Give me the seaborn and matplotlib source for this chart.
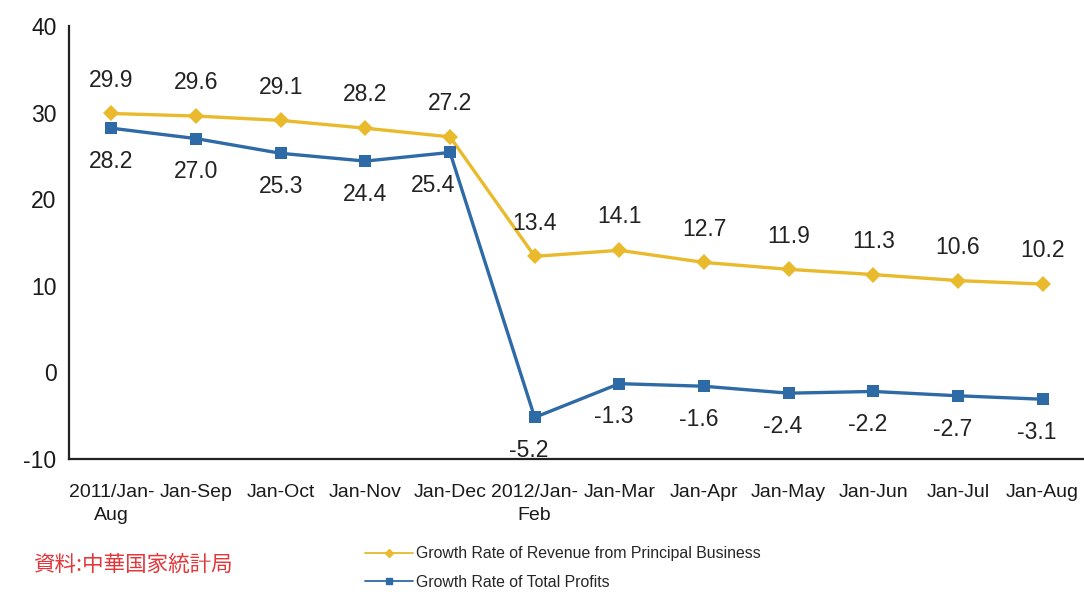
import matplotlib
matplotlib.use("Agg")
import matplotlib.pyplot as plt
import seaborn as sns
import pandas as pd
import numpy as np

# Monthly cumulative periods
periods = ["2011/Jan-\nAug", "Jan-Sep", "Jan-Oct", "Jan-Nov", "Jan-Dec",
           "2012/Jan-\nFeb", "Jan-Mar", "Jan-Apr", "Jan-May", "Jan-Jun",
           "Jan-Jul", "Jan-Aug"]
revenue_growth = [29.9, 29.6, 29.1, 28.2, 27.2, 13.4, 14.1, 12.7, 11.9, 11.3, 10.6, 10.2]
profit_growth = [28.2, 27.0, 25.3, 24.4, 25.4, -5.2, -1.3, -1.6, -2.4, -2.2, -2.7, -3.1]
y_ticks = [-10, 0, 10, 20, 30, 40]

revenue_name = "Growth Rate of Revenue from Principal Business"
profit_name = "Growth Rate of Total Profits"

YELLOW = "#E8BA2C"
BLUE = "#2E6AA6"

sns.set_theme(style="white")
plt.rcParams["font.family"] = ["Liberation Sans", "DejaVu Sans"]

df = pd.DataFrame({
    "pos": list(range(len(periods))) * 2,
    "value": revenue_growth + profit_growth,
    "series": [revenue_name] * len(periods) + [profit_name] * len(periods),
})

fig = plt.figure(figsize=(10.84, 5.92), dpi=100)
ax = fig.add_axes([69 / 1084, 1 - 459 / 592, (1085 - 69) / 1084, 433 / 592])

sns.lineplot(data=df, x="pos", y="value", hue="series", style="series",
             palette={revenue_name: YELLOW, profit_name: BLUE},
             markers={revenue_name: "D", profit_name: "s"},
             dashes=False, linewidth=2.4, markersize=8, markeredgewidth=0,
             ax=ax, legend=False)

ax.set_xlim(-0.5, len(periods) - 0.5)
ax.set_ylim(-10, 40)
ax.set_yticks(y_ticks)
ax.set_yticklabels([str(t) for t in y_ticks], fontsize=16.5, color="#1a1a1a")
ax.set_xticks(range(len(periods)))
ax.set_xticklabels(periods, fontsize=14, linespacing=1.5, color="#1a1a1a")
ax.set_xticks(np.arange(0.5, len(periods) - 0.5, 1), minor=True)
ax.tick_params(axis="x", which="major", length=0, pad=18)
ax.tick_params(axis="x", which="minor", direction="in", length=5, width=1.2, color="#333333")
ax.tick_params(axis="y", direction="in", length=6, width=1.2, color="#333333", pad=9)
ax.set_xlabel("")
ax.set_ylabel("")
for side in ("top", "right"):
    ax.spines[side].set_visible(False)
for side in ("left", "bottom"):
    ax.spines[side].set_color("#222222")
    ax.spines[side].set_linewidth(1.6)

# Value labels
for i, v in enumerate(revenue_growth):
    ax.annotate(f"{v:.1f}", (i, v), xytext=(0, 24), textcoords="offset points",
                ha="center", va="center", fontsize=16.5, color="#222222")
profit_dx = {4: -12}
for i, v in enumerate(profit_growth):
    ax.annotate(f"{v:.1f}", (i, v), xytext=(profit_dx.get(i, -4 if v < 0 else 0), -24),
                textcoords="offset points", ha="center", va="center",
                fontsize=16.5, color="#222222")

# Legend
handles = [
    plt.Line2D([], [], color=YELLOW, marker="D", markersize=4, linewidth=1.3),
    plt.Line2D([], [], color=BLUE, marker="s", markersize=5, linewidth=1.3),
]
fig.legend(handles, [revenue_name, profit_name], loc="upper left",
           bbox_to_anchor=(351 / 1084, 1 - 532 / 592), frameon=False,
           handlelength=3.0, handletextpad=0.2, labelspacing=0.85,
           prop={"family": ["Liberation Sans", "DejaVu Sans"], "size": 11.4})

fig.text(33 / 1084, 1 - 565 / 592, "資料:中華国家統計局", color="#E2383C",
         fontsize=15.5, va="center", ha="left",
         family=["Noto Sans CJK JP", "DejaVu Sans"])

fig.savefig("out.png", dpi=100, facecolor="white")
